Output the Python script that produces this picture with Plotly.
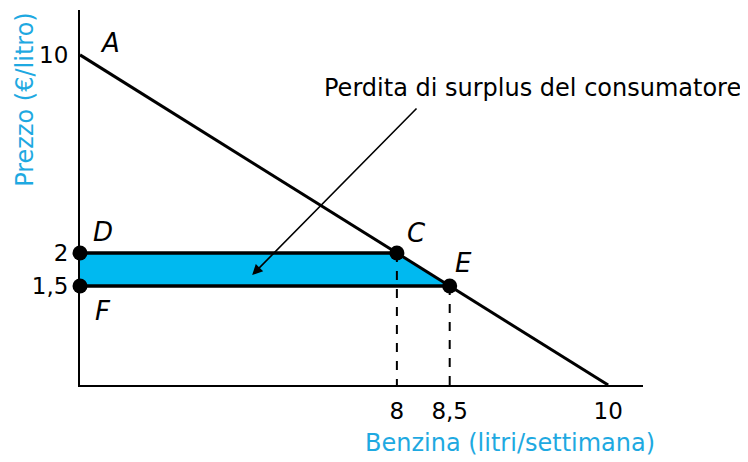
import plotly.graph_objects as go

# Schematic diagram: the textbook draws the axes out of scale, so the
# tick positions are layout positions and the tick texts are the real values.
quantity_pos = [6, 7, 10]
quantity_labels = ["8", "8,5", "10"]
price_pos = [3, 4, 10]
price_labels = ["1,5", "2", "10"]

demand_q = [0, 10]
demand_p = [10, 0]

point_names = ["D", "C", "E", "F"]
point_q = [0, 6, 7, 0]
point_p = [4, 4, 3, 3]

BLUE = "#1ea9e1"
FILL = "#00b9f0"
FONT = "DejaVu Sans"

fig = go.Figure()

# consumer surplus loss (area D-C-E-F)
fig.add_trace(go.Scatter(
    x=point_q + [point_q[0]], y=point_p + [point_p[0]],
    fill="toself", fillcolor=FILL, mode="lines",
    line=dict(color="black", width=0), hoverinfo="skip",
))
# horizontal price lines
fig.add_trace(go.Scatter(x=[point_q[0], point_q[1]], y=[point_p[0], point_p[1]],
                         mode="lines", line=dict(color="black", width=3.5)))
fig.add_trace(go.Scatter(x=[point_q[3], point_q[2]], y=[point_p[3], point_p[2]],
                         mode="lines", line=dict(color="black", width=3.5)))
# dashed drops to the quantity axis
for q, p in [(point_q[1], point_p[1]), (point_q[2], point_p[2])]:
    fig.add_trace(go.Scatter(x=[q, q], y=[p, 0], mode="lines",
                             line=dict(color="black", width=2, dash="dash")))
# demand line
fig.add_trace(go.Scatter(x=demand_q, y=demand_p, mode="lines",
                         line=dict(color="black", width=3)))
# points
fig.add_trace(go.Scatter(x=point_q, y=point_p, mode="markers", cliponaxis=False,
                         marker=dict(color="black", size=15)))

tick_font = dict(family=FONT, size=23, color="black")
text_font = dict(family=FONT, size=24, color="black")
point_font = dict(family=FONT, size=26, color="black")
title_font = dict(family=FONT, size=24, color=BLUE)

labels = [("A", 0, 10, 30, 12), ("D", 0, 4, 23, 21), ("C", 6, 4, 20, 20),
          ("E", 7, 3, 14, 23), ("F", 0, 3, 23, -25)]
for txt, x, y, dx, dy in labels:
    fig.add_annotation(x=x, y=y, text=f"<i>{txt}</i>", showarrow=False,
                       xshift=dx, yshift=dy, font=point_font)

fig.add_annotation(
    x=3.26, y=3.33, ax=6.4, ay=8.42, axref="x", ayref="y",
    text="", showarrow=True, arrowhead=2, arrowsize=1.3, arrowwidth=1.6,
    arrowcolor="black",
)
fig.add_annotation(
    x=(532 - 80) / 52.8, y=9.0, text="Perdita di surplus del consumatore",
    showarrow=False, font=text_font,
)
fig.add_annotation(
    x=(510 - 80) / 52.8, y=0, yshift=-58, text="Benzina (litri/settimana)",
    showarrow=False, font=title_font,
)
fig.add_annotation(
    x=0, y=8.64, xshift=-55, text="Prezzo (€/litro)", textangle=-90,
    showarrow=False, font=title_font,
)

fig.update_xaxes(range=[0, 10.66], tickvals=quantity_pos, ticktext=quantity_labels,
                 showgrid=False, zeroline=False, showline=True, linecolor="black",
                 linewidth=2, ticks="", tickfont=tick_font, ticklabelstandoff=4,
                 automargin=False)
fig.update_yaxes(range=[0, 11.36], tickvals=price_pos, ticktext=price_labels,
                 showgrid=False, zeroline=False, showline=True, linecolor="black",
                 linewidth=2, ticks="", tickfont=tick_font, ticklabelstandoff=5,
                 automargin=False)
# the page body adds an 8px offset, so the figure is 8px smaller each way
fig.update_layout(
    width=740, height=454, showlegend=False,
    plot_bgcolor="white", paper_bgcolor="white",
    margin=dict(l=72, r=105, t=2, b=77),
)

fig.write_html("out.html")
